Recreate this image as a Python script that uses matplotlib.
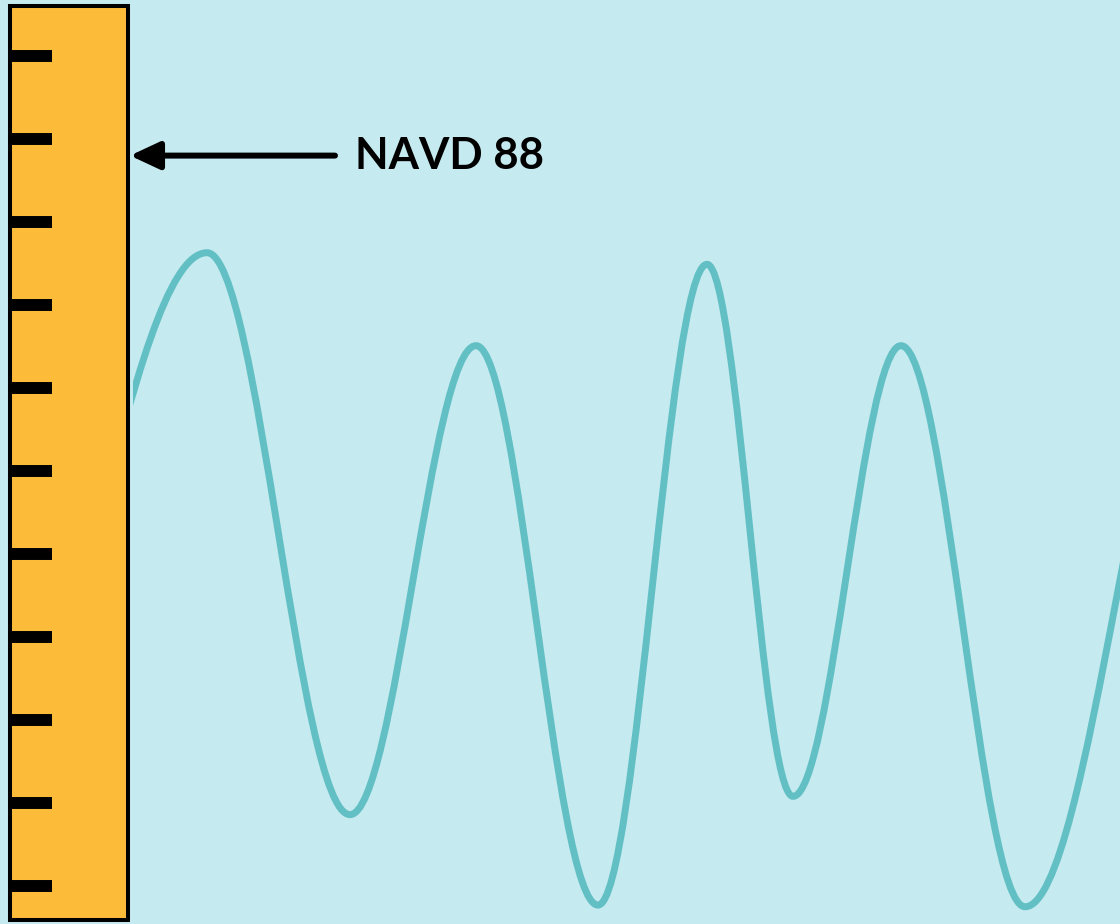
import numpy as np
import matplotlib
matplotlib.use("Agg")
import matplotlib.pyplot as plt
from matplotlib.path import Path
from matplotlib.patches import PathPatch, Rectangle

# wave turning points (time in px-like units, level in ruler-tick units)
wave_t = [-12, 207, 350, 476, 598, 707, 793, 901, 1025, 1206]
wave_level = [1.04, 7.63, 0.86, 6.51, -0.23, 7.49, 1.08, 6.51, -0.25, 7.06]

# ruler marks
ruler_levels = [0, 1, 2, 3, 4, 5, 6, 7, 8, 9, 10]
datum_level = 8.8
datum_label = "NAVD 88"

bg = "#c5eaef"
orange = "#fdbb3a"
teal = "#62c0c5"

fig = plt.figure(figsize=(11.2, 9.24), dpi=100)
fig.patch.set_facecolor(bg)
ax = fig.add_axes([0, 0, 1, 1])
ax.set_facecolor(bg)
ax.set_xlim(0, 1120)
ax.set_ylim((886 - 924) / 83, 886 / 83)
ax.axis("off")

# ruler body
lv = lambda ypx: (886 - ypx) / 83
ruler = Rectangle((10, lv(920)), 118, lv(6) - lv(920), facecolor=orange,
                  edgecolor="black", lw=2.9, zorder=3)
ax.add_patch(ruler)
ax.hlines(ruler_levels, 12, 52, color="black", lw=8.6, capstyle="butt", zorder=4)

# wave as smooth bezier segments through turning points
verts = [(wave_t[0], wave_level[0])]
codes = [Path.MOVETO]
k = 0.36
for i in range(1, len(wave_t)):
    dt = wave_t[i] - wave_t[i - 1]
    verts += [(wave_t[i - 1] + k * dt, wave_level[i - 1]),
              (wave_t[i] - k * dt, wave_level[i]),
              (wave_t[i], wave_level[i])]
    codes += [Path.CURVE4] * 3
wave = PathPatch(Path(verts, codes), facecolor="none", edgecolor=teal,
                 lw=5.0, capstyle="butt", zorder=2)
ax.add_patch(wave)
clip = Rectangle((133, -5), 2000, 30, transform=ax.transData)
wave.set_clip_path(clip)

# datum arrow + label
ax.annotate("", xy=(130, datum_level), xytext=(335, datum_level),
            arrowprops=dict(arrowstyle="-|>,head_length=1.5,head_width=0.7",
                            color="black", lw=4.3, shrinkA=0, shrinkB=0,
                            mutation_scale=12), zorder=5)
ax.text(355, datum_level, datum_label, fontsize=31.5, fontweight="bold",
        family="Lato", va="center", ha="left", color="black")

fig.savefig("out.png", dpi=100, facecolor=bg)
